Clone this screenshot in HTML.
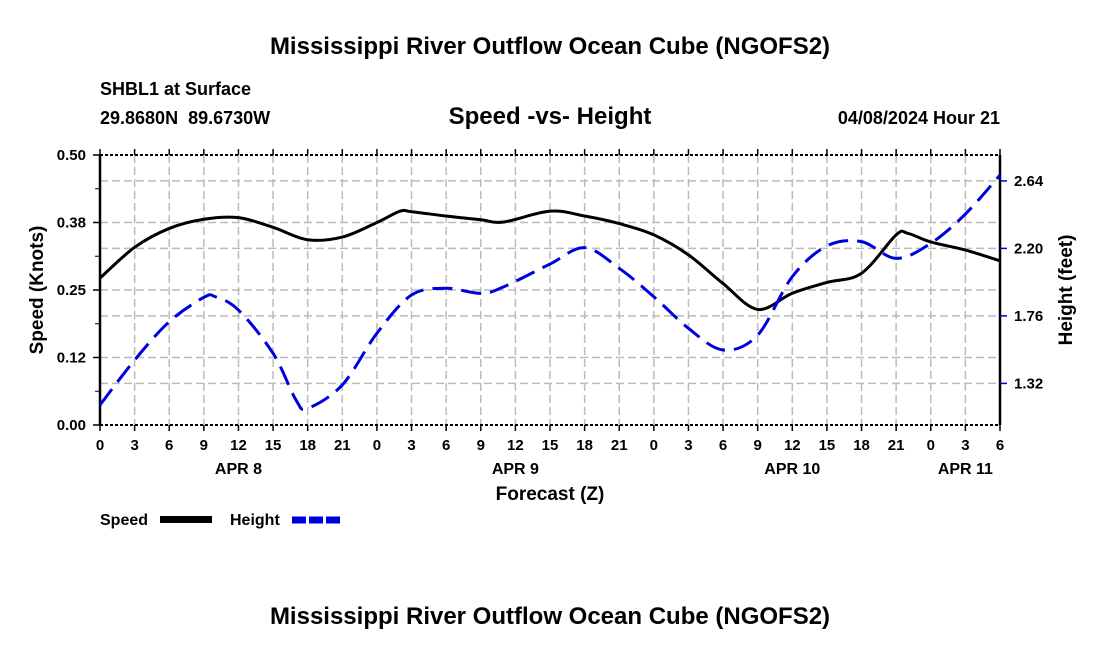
<!DOCTYPE html>
<html><head><meta charset="utf-8"><style>
body{margin:0;background:#fff;width:1100px;height:650px;overflow:hidden}
svg text{font-family:"Liberation Sans",Arial,sans-serif;font-weight:bold;fill:#000;white-space:pre}
</style></head><body>
<svg id="c" width="1100" height="650">
<text x="550" y="54" font-size="24" text-anchor="middle">Mississippi River Outflow Ocean Cube (NGOFS2)</text>
<text x="100" y="95" font-size="18">SHBL1 at Surface</text>
<text x="100" y="124" font-size="18" xml:space="preserve">29.8680N  89.6730W</text>
<text x="550" y="124" font-size="24" text-anchor="middle">Speed -vs- Height</text>
<text x="1000" y="124" font-size="18" text-anchor="end">04/08/2024 Hour 21</text>
<g id="grid"></g>
<g id="axes"></g>
<g id="series"></g>
<text transform="translate(43,290) rotate(-90)" font-size="19" text-anchor="middle">Speed (Knots)</text>
<text transform="translate(1072,290) rotate(-90)" font-size="19" text-anchor="middle">Height (feet)</text>
<text x="550" y="500" font-size="19" text-anchor="middle">Forecast (Z)</text>
<g>
<text x="100" y="525" font-size="16">Speed</text>
<rect x="160" y="516" width="52" height="7" fill="#000"/>
<text x="230" y="525" font-size="16">Height</text>
<line x1="292" y1="520" x2="343" y2="520" stroke="#0000dd" stroke-width="7" stroke-dasharray="14,3"/>
</g>
<text x="550" y="624" font-size="24" text-anchor="middle">Mississippi River Outflow Ocean Cube (NGOFS2)</text>
</svg>
<script>
const speedHours=[0,3,6,9,12,15,18,21,24,26,27,30,33,35,39,42,45,48,51,54,57,60,63,66,69,70,72,75,78];
const speedValues=[0.272,0.329,0.364,0.381,0.384,0.366,0.343,0.348,0.375,0.396,0.395,0.387,0.380,0.376,0.396,0.387,0.373,0.352,0.315,0.262,0.214,0.244,0.264,0.281,0.352,0.355,0.339,0.324,0.304];
const heightHours=[0,3,6,9,10,12,15,17,18,21,24,27,30,33,35,39,42,45,48,51,54,57,60,63,66,69,72,75,78];
const heightValues=[1.179,1.472,1.722,1.881,1.885,1.798,1.516,1.21,1.158,1.31,1.647,1.896,1.94,1.907,1.95,2.098,2.205,2.07,1.885,1.679,1.538,1.635,2.016,2.216,2.244,2.135,2.233,2.424,2.678];
const speedTicks=[0,0.125,0.25,0.375,0.5];
const speedTickLabels=["0.00","0.12","0.25","0.38","0.50"];
const heightTicks=[1.32,1.76,2.20,2.64];
const heightTickLabels=["1.32","1.76","2.20","2.64"];
const dayLabels=["APR 8","APR 9","APR 10","APR 11"];
const dayLabelHours=[12,36,60,75];
const X0=100,X1=1000,Y0=425,Y1=155,HMAX=78;
const xs=h=>X0+(X1-X0)*h/HMAX;
const ys=v=>Y0-(Y0-Y1)*v/0.5;
const yh=f=>383.4-(f-1.32)*67.5/0.44;
const NS="http://www.w3.org/2000/svg";
function mk(p,t,a){const e=document.createElementNS(NS,t);for(const k in a)e.setAttribute(k,a[k]);document.getElementById(p).appendChild(e);return e;}
for(let h=3;h<HMAX;h+=3){const e=mk('grid','line',{x1:xs(h),x2:xs(h),y1:Y1,y2:Y0,stroke:'#bbb','stroke-width':1.5,'stroke-dasharray':'8,4'});

}
speedTicks.forEach(v=>{if(v>0&&v<0.5){const e=mk('grid','line',{x1:X0,x2:X1,y1:ys(v),y2:ys(v),stroke:'#bbb','stroke-width':1.5,'stroke-dasharray':'8,4'});

}});
heightTicks.forEach(v=>{const e=mk('grid','line',{x1:X0,x2:X1,y1:yh(v),y2:yh(v),stroke:'#bbb','stroke-width':1.5,'stroke-dasharray':'8,4'});

});
mk('axes','line',{x1:X0,x2:X0,y1:Y1,y2:Y0,stroke:'#000','stroke-width':2.5});
mk('axes','line',{x1:X1,x2:X1,y1:Y1,y2:Y0,stroke:'#000','stroke-width':2.5});
mk('axes','line',{x1:X0,x2:X1,y1:Y0,y2:Y0,stroke:'#000','stroke-width':2,'stroke-dasharray':'3,2'});
mk('axes','line',{x1:X0,x2:X1,y1:Y1,y2:Y1,stroke:'#000','stroke-width':2,'stroke-dasharray':'3,2'});
for(let h=0;h<=HMAX;h+=3){
mk('axes','line',{x1:xs(h),x2:xs(h),y1:Y0,y2:Y0+6,stroke:'#000','stroke-width':1.5});
mk('axes','line',{x1:xs(h),x2:xs(h),y1:Y1,y2:Y1-6,stroke:'#000','stroke-width':1.5});
const t=mk('axes','text',{x:xs(h),y:Y0+25,'font-size':15,'text-anchor':'middle'});t.textContent=String(h%24);

}
speedTicks.forEach((v,i)=>{mk('axes','line',{x1:X0-7,x2:X0,y1:ys(v),y2:ys(v),stroke:'#000','stroke-width':1.5});
const t=mk('axes','text',{x:X0-14,y:ys(v)+5,'font-size':15,'text-anchor':'end'});t.textContent=speedTickLabels[i];

});
for(let v=0.0625;v<0.5;v+=0.125)mk('axes','line',{x1:X0-5,x2:X0,y1:ys(v),y2:ys(v),stroke:'#000','stroke-width':1});
heightTicks.forEach((v,i)=>{mk('axes','line',{x1:X1,x2:X1+7,y1:yh(v),y2:yh(v),stroke:'#0000dd','stroke-width':1.5});
const t=mk('axes','text',{x:X1+14,y:yh(v)+5,'font-size':15});t.textContent=heightTickLabels[i];

});
dayLabels.forEach((d,i)=>{const t=mk('axes','text',{x:xs(dayLabelHours[i]),y:Y0+49,'font-size':16,'text-anchor':'middle'});t.textContent=d;

});
function path(pts){let d='M'+pts[0][0]+','+pts[0][1];for(let i=0;i<pts.length-1;i++){const p0=pts[i-1]||pts[i],p1=pts[i],p2=pts[i+1],p3=pts[i+2]||p2;
d+=' C'+(p1[0]+(p2[0]-p0[0])/6)+','+(p1[1]+(p2[1]-p0[1])/6)+' '+(p2[0]-(p3[0]-p1[0])/6)+','+(p2[1]-(p3[1]-p1[1])/6)+' '+p2[0]+','+p2[1];}return d;}
const sp=mk('series','path',{d:path(speedHours.map((h,i)=>[xs(h),ys(speedValues[i])])),fill:'none',stroke:'#000','stroke-width':3});


const hp=mk('series','path',{d:path(heightHours.map((h,i)=>[xs(h),yh(heightValues[i])])),fill:'none',stroke:'#0000dd','stroke-width':3,'stroke-dasharray':'20,9'});


</script>
</body></html>
